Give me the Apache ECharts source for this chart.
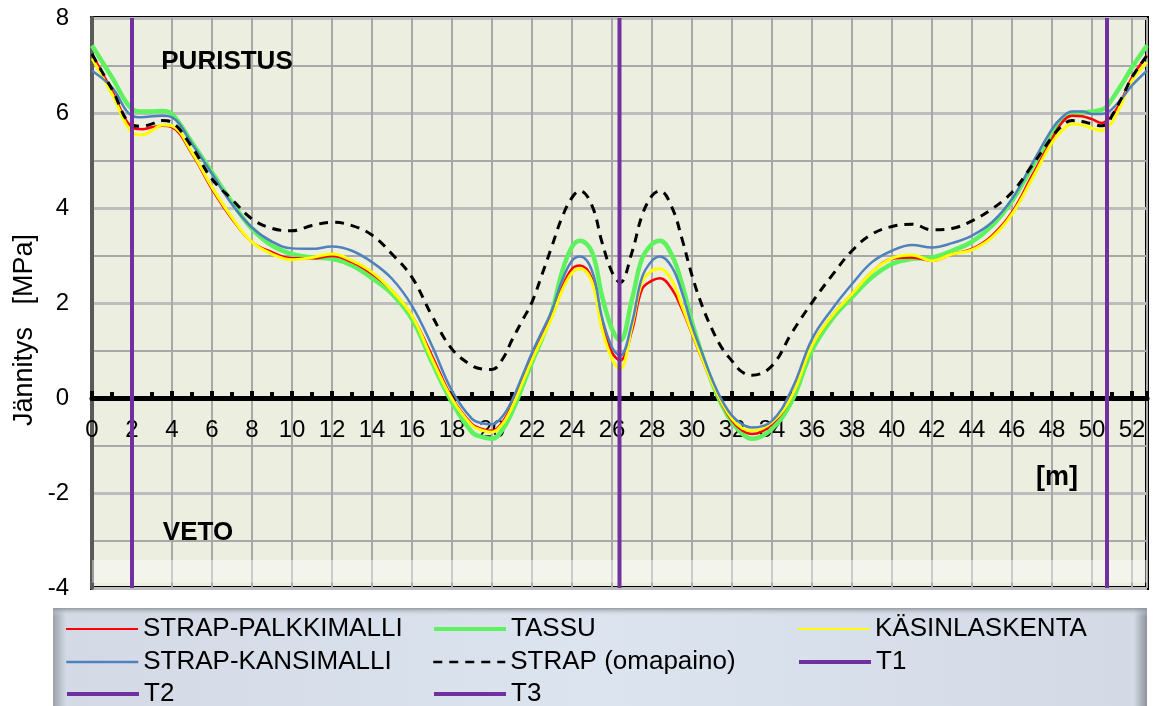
<!DOCTYPE html>
<html>
<head>
<meta charset="utf-8">
<style>
  html, body { margin: 0; padding: 0; background: #ffffff; }
  #chart { width: 1156px; height: 706px; }
</style>
<script src="https://cdn.jsdelivr.net/npm/echarts@6/dist/echarts.min.js"></script>
</head>
<body>
<div id="chart"></div>
<script>
// Stations along the deck [m]
const xs = [0, 1, 2, 2.5, 3, 3.5, 4, 5, 6, 7, 8, 9, 10, 11, 12, 13, 14, 15, 16, 17, 18, 19, 19.5, 20, 20.5, 21, 21.5, 22, 22.5, 23, 23.5, 24, 24.4, 25, 25.5, 26, 26.4, 27, 27.5, 28, 28.4, 29, 29.5, 30, 30.5, 31, 31.5, 32, 32.5, 33, 34, 35, 36, 37, 38, 39, 40, 41, 42, 43, 44, 45, 46, 47, 48, 48.5, 49, 49.5, 50, 50.5, 50.75, 51, 51.5, 52, 52.75];

// Stress [MPa] at each station
const strapPalkki = [7.24, 6.47, 5.70, 5.66, 5.70, 5.73, 5.70, 5.14, 4.40, 3.77, 3.28, 3.07, 2.94, 2.94, 2.99, 2.86, 2.61, 2.26, 1.73, 0.89, 0.01, -0.55, -0.65, -0.69, -0.52, -0.15, 0.35, 0.85, 1.30, 1.75, 2.33, 2.72, 2.79, 2.51, 1.56, 0.96, 0.79, 1.42, 2.29, 2.47, 2.52, 2.29, 1.87, 1.35, 0.82, 0.33, -0.12, -0.48, -0.68, -0.76, -0.55, 0.05, 1.10, 1.73, 2.19, 2.65, 2.93, 2.96, 2.89, 3.03, 3.14, 3.42, 3.91, 4.68, 5.45, 5.80, 5.94, 5.93, 5.87, 5.79, 5.84, 5.94, 6.29, 6.75, 7.21];
const tassu = [7.42, 6.75, 6.08, 6.03, 6.03, 6.04, 5.98, 5.38, 4.75, 4.12, 3.56, 3.21, 3.03, 2.96, 2.93, 2.79, 2.52, 2.19, 1.66, 0.75, -0.09, -0.72, -0.82, -0.86, -0.68, -0.30, 0.22, 0.75, 1.25, 1.82, 2.65, 3.18, 3.31, 3.07, 2.15, 1.45, 1.21, 2.08, 2.93, 3.24, 3.31, 3.00, 2.40, 1.59, 0.92, 0.33, -0.15, -0.51, -0.75, -0.86, -0.65, -0.06, 1.00, 1.66, 2.12, 2.54, 2.82, 2.93, 2.96, 3.10, 3.29, 3.63, 4.15, 4.86, 5.56, 5.84, 6.00, 6.01, 6.03, 6.07, 6.14, 6.29, 6.61, 6.96, 7.42];
const kasinlaskenta = [7.15, 6.40, 5.59, 5.54, 5.63, 5.75, 5.73, 5.17, 4.44, 3.80, 3.28, 3.03, 2.91, 2.96, 3.03, 2.89, 2.65, 2.26, 1.73, 0.82, -0.02, -0.58, -0.68, -0.72, -0.56, -0.20, 0.30, 0.80, 1.25, 1.70, 2.26, 2.63, 2.72, 2.44, 1.45, 0.82, 0.61, 1.52, 2.44, 2.68, 2.72, 2.47, 1.94, 1.38, 0.84, 0.33, -0.10, -0.44, -0.63, -0.69, -0.51, 0.05, 1.10, 1.73, 2.19, 2.65, 2.94, 3.01, 2.89, 3.03, 3.12, 3.38, 3.87, 4.61, 5.38, 5.63, 5.77, 5.75, 5.68, 5.63, 5.70, 5.80, 6.22, 6.68, 7.07];
const strapKansi = [6.89, 6.54, 5.94, 5.91, 5.93, 5.94, 5.91, 5.35, 4.72, 4.08, 3.59, 3.29, 3.15, 3.14, 3.19, 3.10, 2.86, 2.51, 1.94, 1.10, 0.15, -0.44, -0.53, -0.55, -0.40, -0.05, 0.45, 0.95, 1.40, 1.85, 2.47, 2.89, 2.98, 2.68, 1.70, 1.07, 0.89, 1.59, 2.54, 2.89, 2.98, 2.75, 2.22, 1.52, 0.95, 0.40, -0.05, -0.37, -0.55, -0.62, -0.48, 0.19, 1.24, 1.87, 2.40, 2.86, 3.10, 3.22, 3.17, 3.26, 3.42, 3.70, 4.19, 4.93, 5.66, 5.91, 6.03, 6.03, 5.98, 5.98, 6.01, 6.08, 6.31, 6.58, 6.89];
const strapOmapaino = [7.24, 6.50, 5.75, 5.72, 5.77, 5.84, 5.80, 5.28, 4.61, 4.18, 3.77, 3.57, 3.52, 3.63, 3.70, 3.63, 3.43, 3.03, 2.54, 1.73, 1.03, 0.68, 0.61, 0.60, 0.80, 1.22, 1.62, 2.02, 2.60, 3.20, 3.80, 4.22, 4.36, 4.05, 3.28, 2.65, 2.43, 3.07, 3.84, 4.26, 4.36, 4.01, 3.35, 2.58, 1.95, 1.45, 1.05, 0.78, 0.55, 0.48, 0.68, 1.38, 2.01, 2.58, 3.10, 3.45, 3.61, 3.66, 3.54, 3.57, 3.73, 3.98, 4.33, 4.89, 5.49, 5.73, 5.84, 5.82, 5.77, 5.73, 5.77, 5.94, 6.33, 6.75, 7.21];

// Support lines T1..T3 [m]
const supportNames = ['T1', 'T2', 'T3'];
const supportX = [2, 26.375, 50.75];

const xMin = 0, xMax = 52.75, xStep = 2;
const yMin = -4, yMax = 8, yStep = 2;

const FONT = '"Liberation Sans", Arial, sans-serif';

// plot frame in pixels
const GRID_TOP = 18, GRID_HEIGHT = 570;
// lift the x axis from the bottom of the frame up to the zero line
const zeroLift = GRID_HEIGHT * (0 - yMin) / (yMax - yMin);

function pairs(values) {
  return xs.map((x, i) => [x, values[i]]);
}

const curveDefs = [
  { name: 'TASSU', values: tassu, color: '#5ef25e', width: 4.5, keyWidth: 4 },
  { name: 'STRAP-PALKKIMALLI', values: strapPalkki, color: '#ff0000', width: 2.5, keyWidth: 2 },
  { name: 'KÄSINLASKENTA', values: kasinlaskenta, color: '#ffff00', width: 3, keyWidth: 2 },
  { name: 'STRAP-KANSIMALLI', values: strapKansi, color: '#4f81bd', width: 2.5, keyWidth: 2.5 },
  { name: 'STRAP (omapaino)', values: strapOmapaino, color: '#000000', width: 3, keyWidth: 2.5, dashed: true }
];

const curveSeries = curveDefs.map(s => ({
  name: s.name,
  type: 'line',
  data: pairs(s.values),
  smooth: 0.4,
  symbol: 'none',
  showSymbol: false,
  color: s.color,
  lineStyle: { color: s.color, width: s.width, type: s.dashed ? [9, 7] : 'solid' },
  z: 3
}));

const supportSeries = supportNames.map((name, i) => ({
  name: name,
  type: 'line',
  data: [[supportX[i], yMin], [supportX[i], yMax]],
  symbol: 'none',
  showSymbol: false,
  color: '#7030a0',
  lineStyle: { color: '#7030a0', width: 4 },
  z: 4
}));

// faint light band along the bottom of the plot area
supportSeries[0].markArea = {
  silent: true,
  itemStyle: { color: 'rgba(255,255,255,0.4)' },
  data: [[{ yAxis: -3.41 }, { yAxis: -3.89 }]]
};

// legend key: three columns, up to three rows
const legendCols = [65, 432, 797];
const legendRows = [616, 649, 681];
const legendLayout = [
  { name: 'STRAP-PALKKIMALLI', col: 0, row: 0 },
  { name: 'TASSU', col: 1, row: 0 },
  { name: 'KÄSINLASKENTA', col: 2, row: 0 },
  { name: 'STRAP-KANSIMALLI', col: 0, row: 1 },
  { name: 'STRAP (omapaino)', col: 1, row: 1 },
  { name: 'T1', col: 2, row: 1 },
  { name: 'T2', col: 0, row: 2 },
  { name: 'T3', col: 1, row: 2 }
];

function keyWidthOf(name) {
  const c = curveDefs.find(d => d.name === name);
  return c ? c.keyWidth : 4;
}

const legends = legendLayout.map(item => ({
  data: [item.name],
  left: legendCols[item.col],
  top: legendRows[item.row],
  padding: 0,
  itemWidth: 72,
  itemHeight: 16,
  selectedMode: false,
  itemStyle: { opacity: 0 },
  lineStyle: { width: keyWidthOf(item.name) },
  textStyle: { fontFamily: FONT, fontSize: 26, color: '#000' }
}));

const option = {
  animation: false,
  backgroundColor: '#ffffff',
  grid: {
    left: 92, top: GRID_TOP, width: 1055, height: GRID_HEIGHT,
    show: true,
    backgroundColor: '#eceee0',
    borderColor: '#000000',
    borderWidth: 4
  },
  xAxis: {
    type: 'value',
    min: xMin, max: xMax, interval: xStep,
    offset: -zeroLift,
    axisLine: { onZero: false, lineStyle: { color: '#000', width: 5 } },
    axisTick: { show: true, inside: true, length: 7, lineStyle: { color: '#000', width: 4 } },
    minorTick: { show: true, splitNumber: 2, length: 6, lineStyle: { color: '#000', width: 4 } },
    axisLabel: {
      fontFamily: FONT, fontSize: 24, color: '#000', margin: 20,
      showMaxLabel: false,
      formatter: v => (v % xStep === 0 ? String(v) : '')
    },
    splitLine: { show: true, lineStyle: { color: '#a8a8a8', width: 2 } }
  },
  yAxis: {
    type: 'value',
    min: yMin, max: yMax, interval: yStep,
    axisLine: { show: true, onZero: false, lineStyle: { color: '#5a5a5a', width: 4 } },
    axisTick: { show: false },
    axisLabel: { fontFamily: FONT, fontSize: 24, color: '#000', margin: 23 },
    splitLine: { show: true, lineStyle: { color: '#bdbdbd', width: 3 } },
    minorTick: { show: false, splitNumber: 2 },
    minorSplitLine: { show: true, lineStyle: { color: '#a8a8a8', width: 2 } }
  },
  legend: legends,
  graphic: [
    // legend panel
    {
      type: 'rect', z: -10,
      shape: { x: 53, y: 608, width: 1094, height: 110 },
      style: {
        fill: new echarts.graphic.LinearGradient(0, 0, 1, 0, [
          { offset: 0, color: '#9da2a9' },
          { offset: 0.012, color: '#d3dae5' },
          { offset: 0.5, color: '#dce4ef' },
          { offset: 0.988, color: '#d3dae5' },
          { offset: 1, color: '#8e939a' }
        ])
      }
    },
    {
      type: 'rect', z: -9,
      shape: { x: 53, y: 608, width: 1094, height: 8 },
      style: {
        fill: new echarts.graphic.LinearGradient(0, 0, 0, 1, [
          { offset: 0, color: 'rgba(140,145,152,0.9)' },
          { offset: 1, color: 'rgba(220,228,239,0)' }
        ])
      }
    },
    {
      type: 'text', x: 25, y: 330, rotation: Math.PI / 2,
      style: { text: 'Jännitys   [MPa]', font: '27px ' + FONT, fill: '#000', align: 'center', verticalAlign: 'middle' }
    },
    {
      type: 'text', x: 227, y: 62, z: 10,
      style: { text: 'PURISTUS', font: 'bold 26px ' + FONT, fill: '#000', align: 'center', verticalAlign: 'middle' }
    },
    {
      type: 'text', x: 198, y: 533, z: 10,
      style: { text: 'VETO', font: 'bold 26px ' + FONT, fill: '#000', align: 'center', verticalAlign: 'middle' }
    },
    {
      type: 'text', x: 1057, y: 478, z: 10,
      style: { text: '[m]', font: 'bold 27px ' + FONT, fill: '#000', align: 'center', verticalAlign: 'middle' }
    }
  ],
  series: curveSeries.concat(supportSeries)
};

const chart = echarts.init(document.getElementById('chart'), null, { renderer: 'canvas' });
chart.setOption(option);
</script>
</body>
</html>
